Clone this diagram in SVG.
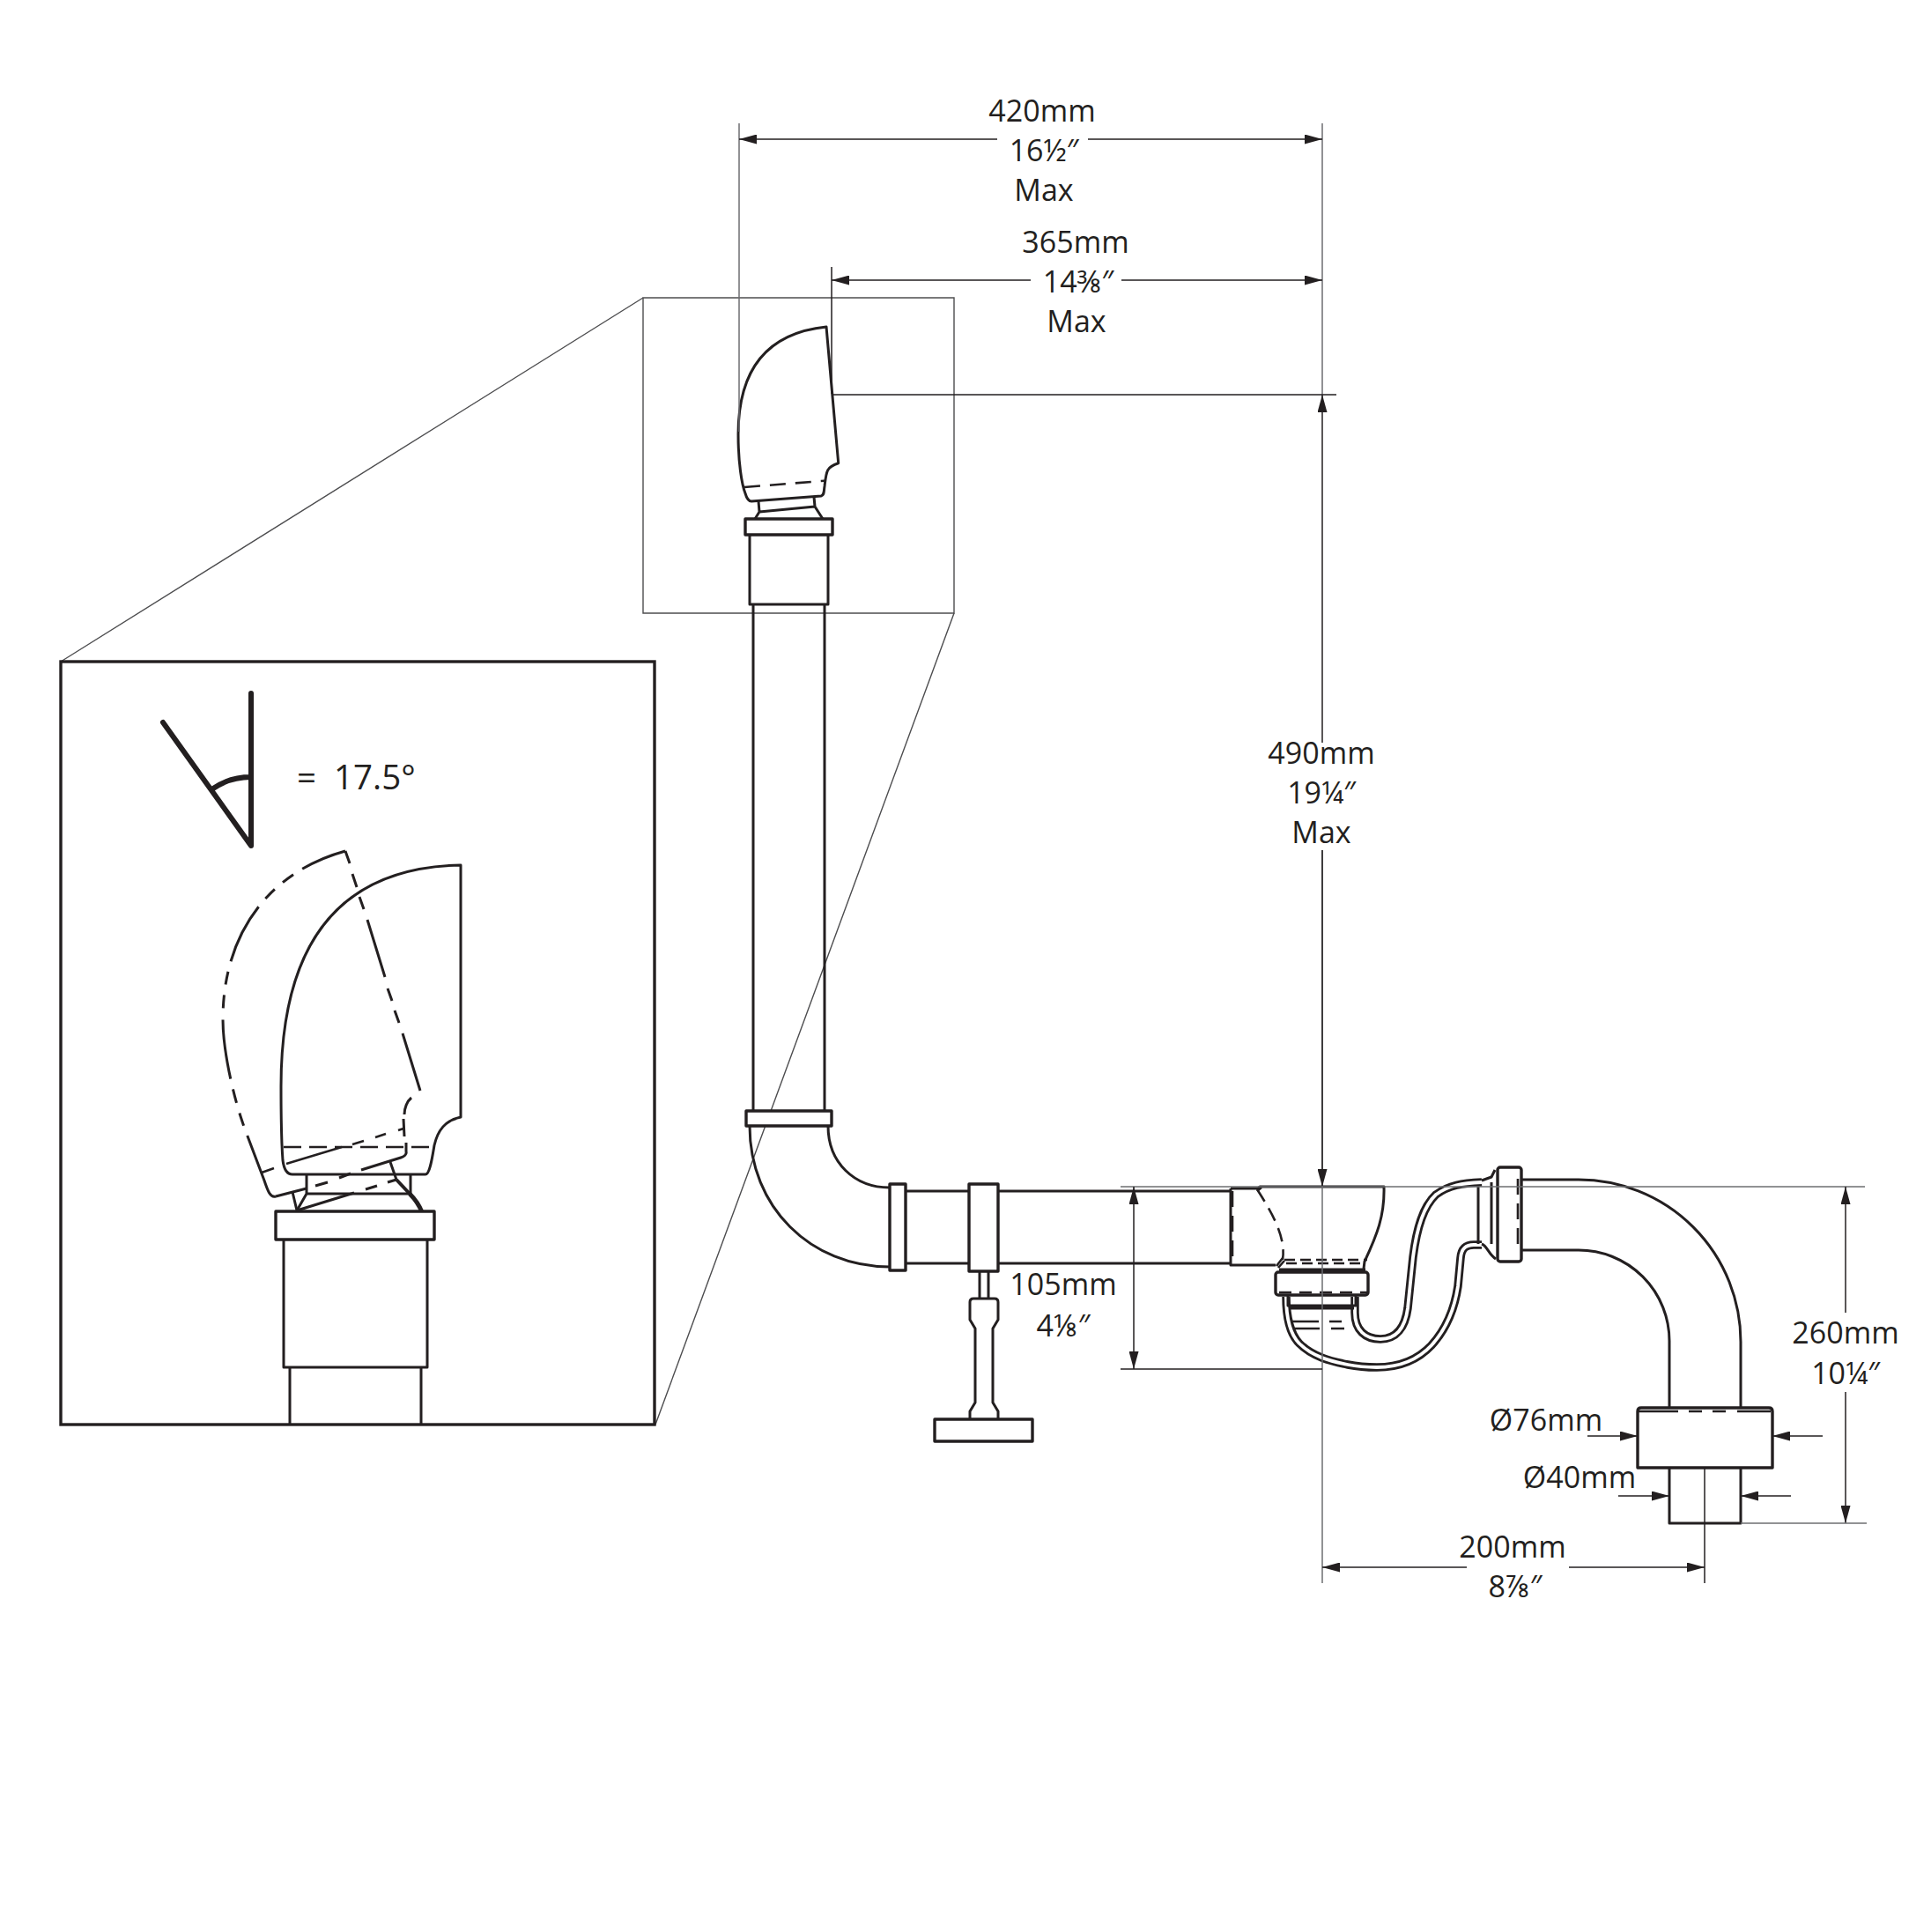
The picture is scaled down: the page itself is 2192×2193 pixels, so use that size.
<svg xmlns="http://www.w3.org/2000/svg" width="2192" height="2193" viewBox="0 0 2192 2193">
<style>
.d{fill:none;stroke:#231f20;stroke-width:3;stroke-linejoin:round}
.m{fill:none;stroke:#231f20;stroke-width:2.6;stroke-linejoin:round}
.h{fill:none;stroke:#231f20;stroke-width:2.6;stroke-dasharray:18 10}
.w{fill:#fff;stroke:#231f20;stroke-width:3.4;stroke-linejoin:round}
.g{fill:none;stroke:#6d6e71;stroke-width:1.5}
.f{fill:none;stroke:#4d4d4f;stroke-width:1.4}
.k{fill:none;stroke:#231f20;stroke-width:1.5}
.o{fill:none;stroke:#231f20;stroke-width:9.500}
.i{fill:none;stroke:#fff;stroke-width:3.800}
.t{fill:#231f20;font-family:"Open Sans","Noto Sans",sans-serif;font-size:34px;text-anchor:middle}
.a{fill:#231f20}
</style>
<defs>
<marker id="ar" viewBox="0 0 20 11" refX="20" refY="5.500" markerWidth="20" markerHeight="11" markerUnits="userSpaceOnUse" orient="auto-start-reverse"><path class="a" d="M0 0L20 5.500L0 11Z"/></marker>
</defs>
<rect width="2192" height="2193" fill="#fff"/>
<g id="detail-frame">
<path class="f" d="M730 338H1083V696H730Z"/>
<path class="f" d="M730 338L69 751M1083 696L744 1617"/>
</g>
<g id="riser">
<path class="d" d="M855 686V1261M936 686V1261"/>
<path class="d" d="M851 607V686H940V607"/>
<rect class="w" x="846" y="589" width="99" height="18"/>
<rect class="w" x="847" y="1261" width="97" height="17"/>
</g>
<g id="overflow-head">
<path class="d" d="M938 371C880 377 838 410 838 493C838 525 842 550 846 560C848 567 850 569 853 569L932 563C936 562 935 558 936 552C938 535 938 530 951.700 525.700L938 371Z"/>
<path class="m" stroke-dasharray="18 11" d="M845 553L936 545.700"/>
<path class="d" d="M861 569L862 581L925 575L924 564M862 581L857 589M925 575L934 589"/>
</g>
<g id="elbow">
<path class="d" d="M851 1278C851 1370 920 1438 1010 1438M940 1278C940 1320 970 1348 1010 1348"/>
<rect class="w" x="1010" y="1344" width="18" height="98"/>
</g>
<g id="horizontal-pipe">
<path class="d" d="M1028 1352H1397M1028 1434H1397"/>
<rect class="w" x="1100" y="1344" width="33" height="99" stroke-width="4.500"/>
</g>
<g id="valve">
<path class="d" d="M1112 1443V1474M1122 1443V1474"/>
<path class="d" d="M1101 1611V1602L1107 1592V1508L1101 1498V1478Q1101 1474 1105 1474H1129Q1133 1474 1133 1478V1498L1127 1508V1592L1133 1602V1611"/>
<rect class="w" x="1061" y="1611" width="111" height="25"/>
</g>
<g id="trap">
<path class="o" d="M1460 1472C1460 1495 1465 1515 1475 1525C1490 1540 1510 1545 1530 1549C1545 1552 1555 1552 1563 1552C1590 1552 1610 1543 1625 1527C1645 1505 1652 1480 1655 1460L1658 1428C1659 1416 1665 1413 1673 1413H1682"/>
<path class="i" d="M1460 1472C1460 1495 1465 1515 1475 1525C1490 1540 1510 1545 1530 1549C1545 1552 1555 1552 1563 1552C1590 1552 1610 1543 1625 1527C1645 1505 1652 1480 1655 1460L1658 1428C1659 1416 1665 1413 1673 1413H1682"/>
<path class="o" d="M1538 1472V1490C1538 1510 1550 1520 1567 1520C1585 1520 1595 1507 1598 1485L1604 1427C1608 1395 1615 1370 1630 1356C1645 1345 1660 1343 1682 1342"/>
<path class="i" d="M1538 1472V1490C1538 1510 1550 1520 1567 1520C1585 1520 1595 1507 1598 1485L1604 1427C1608 1395 1615 1370 1630 1356C1645 1345 1660 1343 1682 1342"/>
<path class="d" d="M1678 1347V1412M1693 1342V1412M1682 1340L1693 1336L1697 1328M1682 1412C1688 1414 1690 1424 1698 1429"/>
<rect class="w" x="1700" y="1325" width="27" height="107" rx="3"/>
<path class="h" d="M1723 1338V1420"/>
<path class="m" d="M1467 1500H1497M1509 1500H1523M1469 1508H1498M1511 1508H1526"/>
</g>
<g id="strainer-body">
<path class="d" d="M1397 1349V1436H1448M1397 1349H1428L1430 1347H1571C1572 1380 1563 1402 1549 1432L1548 1440"/>
<path class="h" d="M1399 1352V1434"/>
<path class="m" stroke-dasharray="16 9" d="M1427 1350C1445 1378 1460 1405 1456 1430"/>
<path class="m" d="M1449 1437L1456 1428M1451 1439L1458 1431M1427 1352L1432 1348"/>
<path class="m" stroke-dasharray="12 6" d="M1458 1430H1552M1460 1434H1548"/>
<path fill="none" stroke="#231f20" stroke-width="5" d="M1452 1442H1550"/>
<rect class="w" x="1448" y="1444" width="105" height="26" rx="3"/>
<path class="m" stroke-dasharray="14 9" d="M1452 1467H1552"/>
<path class="d" d="M1462 1470V1482H1539V1470"/>
<path fill="none" stroke="#231f20" stroke-width="5" d="M1464 1484H1537"/>
</g>
<g id="big-bend">
<path class="d" d="M1727 1339H1792A184 184 0 0 1 1976 1523V1598M1727 1419H1792A103 103 0 0 1 1895 1522V1598"/>
</g>
<g id="outlet">
<path class="w" stroke-width="3.800" fill="none" d="M1859 1666V1602Q1859 1598 1863 1598H2008Q2012 1598 2012 1602V1666Z"/>
<path class="m" stroke-dasharray="46 12 15 12 15 13 38" d="M1859 1602H2011"/>
<path class="d" d="M1895 1666V1729H1976V1666"/>
</g>
<g id="detail">
<rect x="69" y="751" width="674" height="866" fill="none" stroke="#231f20" stroke-width="3.400"/>
<path fill="none" stroke="#231f20" stroke-width="6" stroke-linecap="round" stroke-linejoin="round" d="M285 787V960L185 820M242 895C255 886 268 882 285 882"/>
<g id="detail-solid">
<path class="d" d="M523 982V1268C505 1272 497 1283 493 1300C491 1312 488 1333 483 1333H332C325 1333 322 1325 321 1317C319 1290 319 1260 319 1233C319 1120 350 985 523 982Z"/>
<path class="m" stroke-dasharray="20 9" d="M322 1302H492"/>
<path class="d" d="M348 1333V1355M466 1333V1355M348 1355H466M348 1355L337 1374"/>
<path fill="none" stroke="#231f20" stroke-width="5" d="M465 1355C472 1362 476 1368 479 1376"/>
<path class="d" d="M322 1407V1552H485V1407M329 1552V1617M478 1552V1617"/>
<rect class="w" x="313" y="1375" width="180" height="32"/>
</g>
<g id="detail-tilted">
<path class="d" stroke-dasharray="53 12 15 12 15 12 70 12 15 12 15 13 68 12 16 12 15 12 300" d="M392 966C305 990 253 1060 253 1157C253 1185 262 1240 280 1287L300 1340C304 1352 307 1360 313 1358"/>
<path class="d" d="M392 966L397 980M400 992L405 1007M408 1018L413 1032M417 1044L437 1109M440 1122L445 1136M448 1147L453 1161M457 1173L477 1238"/>
<path class="d" d="M467 1246C462 1250 459 1258 459 1265M458 1270L459 1290M461 1297V1307C462 1311 458 1313 455 1314L410 1328M398 1332L385 1337M372 1342L358 1346M348 1349L313 1358"/>
<path class="m" d="M297 1331L311 1326M325 1321L388 1302M400 1299L413 1295M426 1291L438 1287M452 1283L458 1281"/>
<path class="d" d="M332 1353L337 1374L402 1354M415 1350L428 1346M440 1342L450 1339M443 1319L450 1339"/>
<path fill="none" stroke="#231f20" stroke-width="4" d="M450 1339L465 1355"/>
</g>
<text class="t" x="337" y="896" style="text-anchor:start;font-size:38.500px" xml:space="preserve">=  17.5°</text>
</g>
<g id="dimensions">
<path class="g" d="M839 140V490M1501 140V448"/>
<path class="k" d="M944 303V447M946 448H1517"/>
<path class="k" marker-start="url(#ar)" d="M839 158H1132M1235 158H1501" marker-end="url(#ar)"/>
<path class="k" marker-start="url(#ar)" d="M944 318H1170M1273 318H1501" marker-end="url(#ar)"/>
<path class="k" marker-start="url(#ar)" d="M1501 448V843"/>
<path class="g" d="M1501 965V1797"/>
<path class="k" marker-end="url(#ar)" d="M1501 965V1347"/>
<path class="g" d="M1272 1347H2117"/>
<path class="k" d="M1272 1554H1501"/>
<path class="k" marker-start="url(#ar)" marker-end="url(#ar)" d="M1287 1347V1554"/>
<path class="k" marker-start="url(#ar)" d="M2095 1347V1490"/>
<path class="k" marker-end="url(#ar)" d="M2095 1580V1729"/>
<path class="g" d="M1976 1729H2119"/>
<path class="k" d="M1935 1666V1797"/>
<path class="k" marker-start="url(#ar)" d="M1501 1779H1665"/>
<path class="k" marker-end="url(#ar)" d="M1781 1779H1935"/>
<path class="k" marker-end="url(#ar)" d="M1802 1630H1859"/>
<path class="k" marker-end="url(#ar)" d="M2069 1630H2012"/>
<path class="k" marker-end="url(#ar)" d="M1837 1698H1895"/>
<path class="k" marker-end="url(#ar)" d="M2033 1698H1976"/>
</g>
<g id="labels">
<text class="t" x="1183" y="138">420mm</text>
<text class="t" x="1185" y="183">16½″</text>
<text class="t" x="1185" y="228">Max</text>
<text class="t" x="1221" y="287">365mm</text>
<text class="t" x="1224" y="332">14⅜″</text>
<text class="t" x="1222" y="377">Max</text>
<text class="t" x="1500" y="867">490mm</text>
<text class="t" x="1500" y="912">19¼″</text>
<text class="t" x="1500" y="957">Max</text>
<text class="t" x="1207" y="1470">105mm</text>
<text class="t" x="1207" y="1517">4⅛″</text>
<text class="t" x="2095" y="1525">260mm</text>
<text class="t" x="2095" y="1571">10¼″</text>
<text class="t" x="1755" y="1624">Ø76mm</text>
<text class="t" x="1793" y="1689">Ø40mm</text>
<text class="t" x="1717" y="1768">200mm</text>
<text class="t" x="1720" y="1813">8⅞″</text>
</g>
</svg>
